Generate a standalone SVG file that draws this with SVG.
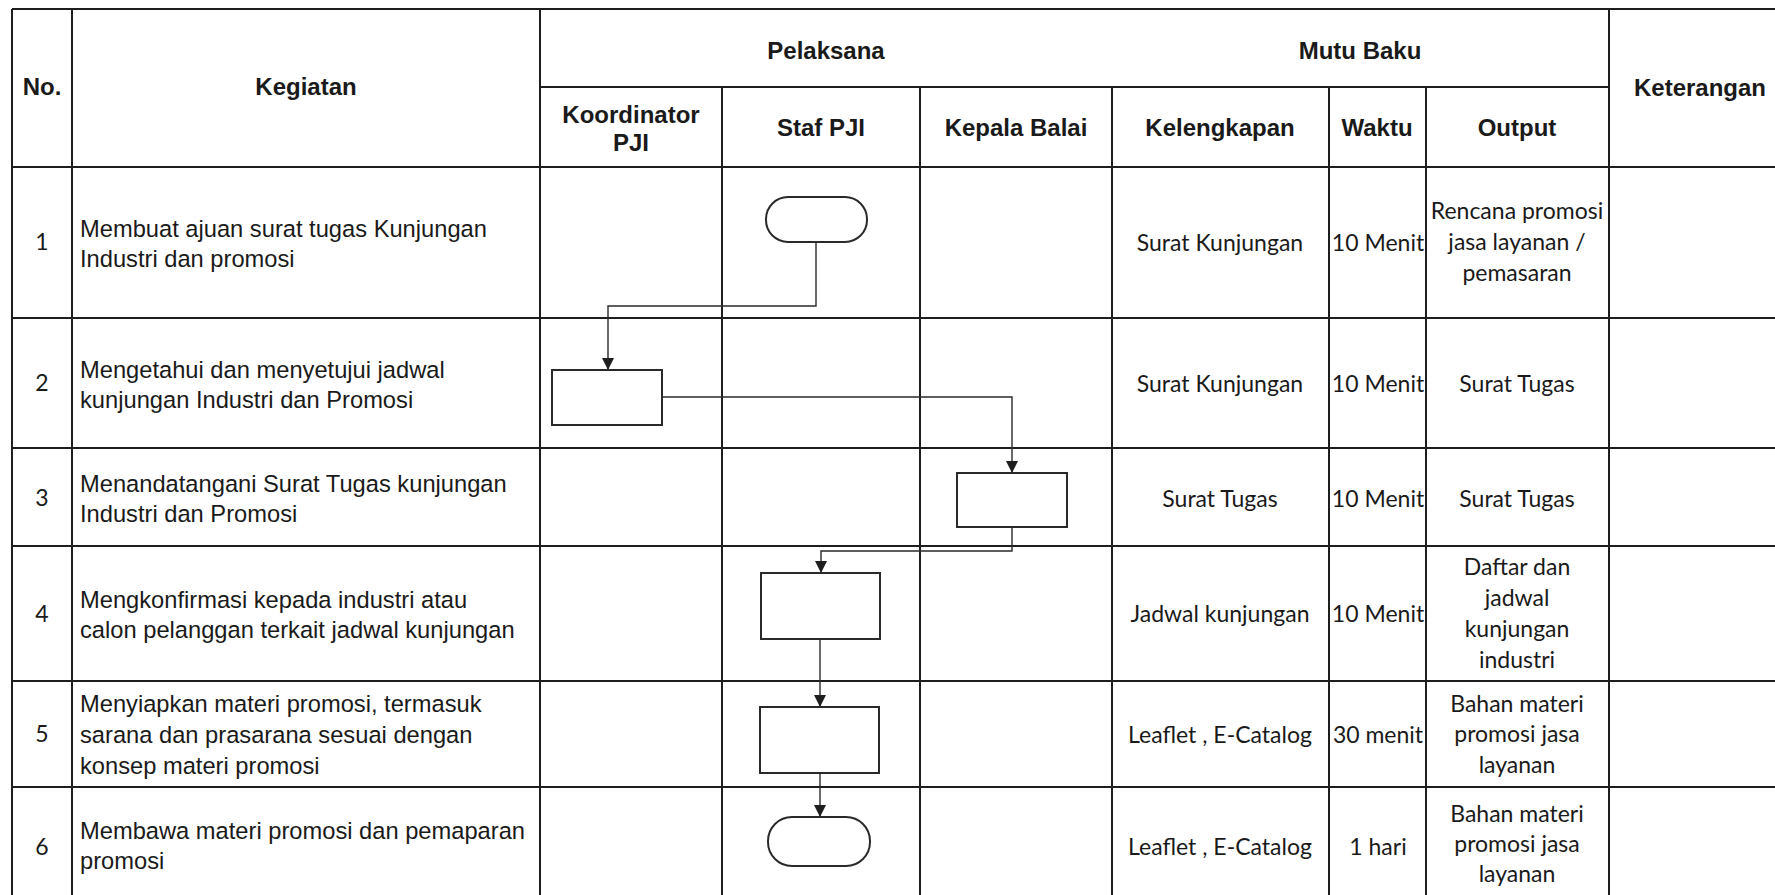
<svg xmlns="http://www.w3.org/2000/svg" width="1775" height="895" viewBox="0 0 1775 895">
<style>
.g{stroke:#1e1e1e;stroke-width:2;fill:none}
.h{font-family:"Liberation Sans",Arial,sans-serif;font-weight:bold;font-size:24px;fill:#1a1a1a;text-anchor:middle}
.b{font-family:"Liberation Sans",Arial,sans-serif;font-size:23.7px;fill:#1a1a1a}
.c{font-family:Lato,"Open Sans",sans-serif;font-size:23px;fill:#1a1a1a;text-anchor:middle}
.s{fill:#fff;stroke:#2a2a2a;stroke-width:2}
.k{fill:none;stroke:#2a2a2a;stroke-width:1.4}
</style>
<defs>
<marker id="ar" markerUnits="userSpaceOnUse" markerWidth="12" markerHeight="12" refX="12" refY="6" orient="auto">
<path d="M0,0 L12,6 L0,12 z" fill="#1e1e1e"/>
</marker>
</defs>
<rect width="1775" height="895" fill="#fff"/>
<g id="grid" class="g">
<line x1="12" y1="9" x2="1775" y2="9"/>
<line x1="540" y1="87" x2="1609" y2="87"/>
<line x1="12" y1="167" x2="1775" y2="167"/>
<line x1="12" y1="318" x2="1775" y2="318"/>
<line x1="12" y1="448" x2="1775" y2="448"/>
<line x1="12" y1="546" x2="1775" y2="546"/>
<line x1="12" y1="681" x2="1775" y2="681"/>
<line x1="12" y1="787" x2="1775" y2="787"/>
<line x1="12" y1="9" x2="12" y2="895"/>
<line x1="72" y1="9" x2="72" y2="895"/>
<line x1="540" y1="9" x2="540" y2="895"/>
<line x1="722" y1="87" x2="722" y2="895"/>
<line x1="920" y1="87" x2="920" y2="895"/>
<line x1="1112" y1="87" x2="1112" y2="895"/>
<line x1="1329" y1="87" x2="1329" y2="895"/>
<line x1="1426" y1="87" x2="1426" y2="895"/>
<line x1="1609" y1="9" x2="1609" y2="895"/>
</g>
<g id="header">
<text class="h" x="42" y="95">No.</text>
<text class="h" x="306" y="95">Kegiatan</text>
<text class="h" x="826" y="59">Pelaksana</text>
<text class="h" x="1360" y="59">Mutu Baku</text>
<text class="h" x="1700" y="96">Keterangan</text>
<text class="h" x="631" y="123">Koordinator</text>
<text class="h" x="631" y="151">PJI</text>
<text class="h" x="821" y="136">Staf PJI</text>
<text class="h" x="1016" y="136">Kepala Balai</text>
<text class="h" x="1220" y="136">Kelengkapan</text>
<text class="h" x="1377" y="136">Waktu</text>
<text class="h" x="1517" y="136">Output</text>
</g>
<g id="row1">
<text class="c" x="42" y="250">1</text>
<text class="b" x="80" y="237">Membuat ajuan surat tugas Kunjungan</text>
<text class="b" x="80" y="267">Industri dan promosi</text>
<text class="c" x="1220" y="251">Surat Kunjungan</text>
<text class="c" x="1378" y="251">10 Menit</text>
<text class="c" x="1517" y="219">Rencana promosi</text>
<text class="c" x="1517" y="250">jasa layanan /</text>
<text class="c" x="1517" y="281">pemasaran</text>
</g>
<g id="row2">
<text class="c" x="42" y="391">2</text>
<text class="b" x="80" y="378">Mengetahui dan menyetujui jadwal</text>
<text class="b" x="80" y="408">kunjungan Industri dan Promosi</text>
<text class="c" x="1220" y="392">Surat Kunjungan</text>
<text class="c" x="1378" y="392">10 Menit</text>
<text class="c" x="1517" y="392">Surat Tugas</text>
</g>
<g id="row3">
<text class="c" x="42" y="506">3</text>
<text class="b" x="80" y="492">Menandatangani Surat Tugas kunjungan</text>
<text class="b" x="80" y="522">Industri dan Promosi</text>
<text class="c" x="1220" y="507">Surat Tugas</text>
<text class="c" x="1378" y="507">10 Menit</text>
<text class="c" x="1517" y="507">Surat Tugas</text>
</g>
<g id="row4">
<text class="c" x="42" y="622">4</text>
<text class="b" x="80" y="608">Mengkonfirmasi kepada industri atau</text>
<text class="b" x="80" y="638">calon pelanggan terkait jadwal kunjungan</text>
<text class="c" x="1220" y="622">Jadwal kunjungan</text>
<text class="c" x="1378" y="622">10 Menit</text>
<text class="c" x="1517" y="575">Daftar dan</text>
<text class="c" x="1517" y="606">jadwal</text>
<text class="c" x="1517" y="637">kunjungan</text>
<text class="c" x="1517" y="668">industri</text>
</g>
<g id="row5">
<text class="c" x="42" y="742">5</text>
<text class="b" x="80" y="712">Menyiapkan materi promosi, termasuk</text>
<text class="b" x="80" y="743">sarana dan prasarana sesuai dengan</text>
<text class="b" x="80" y="774">konsep materi promosi</text>
<text class="c" x="1220" y="743">Leaflet , E-Catalog</text>
<text class="c" x="1378" y="743">30 menit</text>
<text class="c" x="1517" y="712">Bahan materi</text>
<text class="c" x="1517" y="742">promosi jasa</text>
<text class="c" x="1517" y="773">layanan</text>
</g>
<g id="row6">
<text class="c" x="42" y="855">6</text>
<text class="b" x="80" y="839">Membawa materi promosi dan pemaparan</text>
<text class="b" x="80" y="869">promosi</text>
<text class="c" x="1220" y="855">Leaflet , E-Catalog</text>
<text class="c" x="1378" y="855">1 hari</text>
<text class="c" x="1517" y="822">Bahan materi</text>
<text class="c" x="1517" y="852">promosi jasa</text>
<text class="c" x="1517" y="882">layanan</text>
</g>
<g id="connectors">
<path class="k" d="M816,242 V306 H608 V370" marker-end="url(#ar)"/>
<path class="k" d="M662,397 H1012 V473" marker-end="url(#ar)"/>
<path class="k" d="M1012,527 V551 H821 V573" marker-end="url(#ar)"/>
<path class="k" d="M820,639 V707" marker-end="url(#ar)"/>
<path class="k" d="M820,773 V817" marker-end="url(#ar)"/>
</g>
<g id="n1"><rect class="s" x="766" y="197" width="101" height="45" rx="22"/></g>
<g id="n2"><rect class="s" x="552" y="370" width="110" height="55"/></g>
<g id="n3"><rect class="s" x="957" y="473" width="110" height="54"/></g>
<g id="n4"><rect class="s" x="761" y="573" width="119" height="66"/></g>
<g id="n5"><rect class="s" x="760" y="707" width="119" height="66"/></g>
<g id="n6"><rect class="s" x="768" y="817" width="102" height="49" rx="24"/></g>
</svg>
